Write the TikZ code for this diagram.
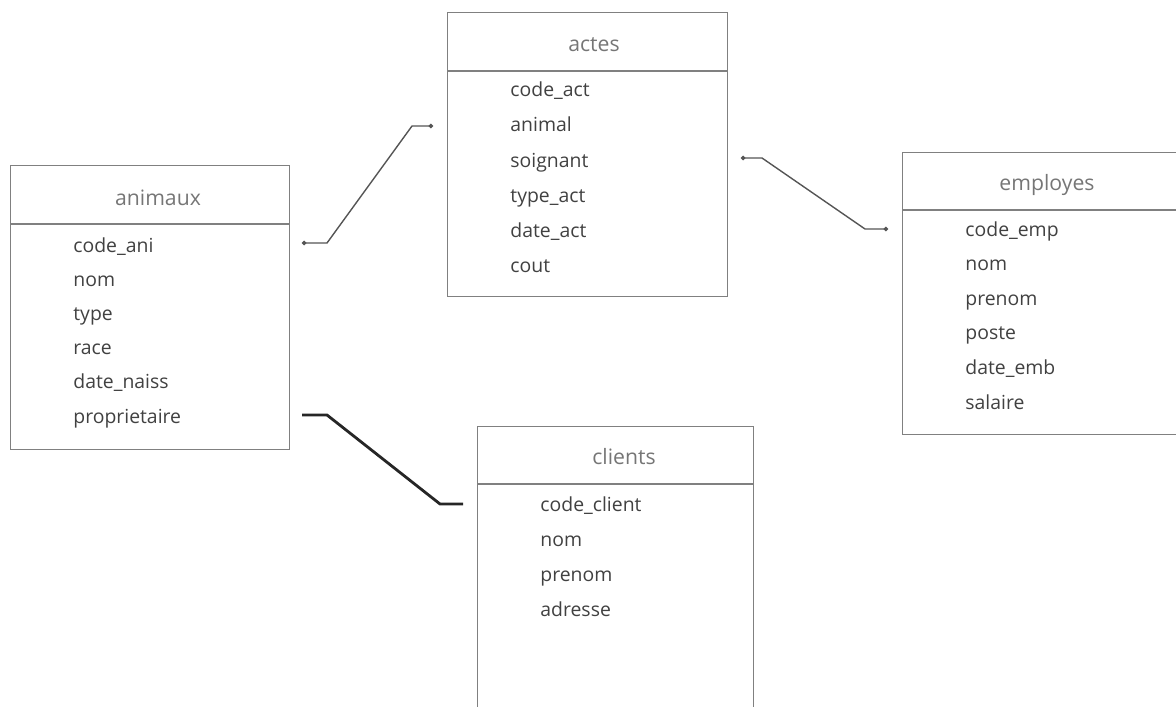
\documentclass[tikz,border=0pt]{standalone}
\usepackage{fontspec}
\setmainfont{Open Sans}
\usetikzlibrary{arrows.meta}
\definecolor{boxgray}{RGB}{128,128,128}
\definecolor{ttlgray}{RGB}{118,118,118}
\definecolor{fldgray}{RGB}{65,65,65}
\definecolor{lnkgray}{RGB}{85,85,85}

\begin{document}
\begin{tikzpicture}[x=0.5pt,y=-0.5pt,
tbl/.style={draw=boxgray,line width=0.7pt,anchor=north west,inner sep=0pt},
ttl/.style={anchor=base,text=ttlgray,font=\fontsize{10.6}{12}\selectfont},
fld/.style={anchor=base west,inner sep=0pt,text=fldgray,font=\fontsize{9.7}{11}\selectfont},
lnk/.style={draw=lnkgray,line width=0.7pt,{Circle[length=2.2pt]}-{Circle[length=2.2pt]}},
lnkbold/.style={draw=black!85,line width=1.4pt}]
\clip (0,0) rectangle (1176,706);

% tables
\node[tbl,minimum width=139.5pt,minimum height=142pt] (animaux) at (10,165) {};
\draw[boxgray,line width=0.7pt] ([yshift=-29.5pt]animaux.north west) -- ([yshift=-29.5pt]animaux.north east);
\node[ttl] (ani-t) at (158,205) {animaux};
\foreach \f [count=\i] in {code\_ani,nom,type,race,date\_naiss,proprietaire}
  \node[fld] (ani-\i) at (73,{252+34.2*(\i-1)}) {\f};

\node[tbl,minimum width=140pt,minimum height=142pt] (actes) at (447,12) {};
\draw[boxgray,line width=0.7pt] ([yshift=-29.5pt]actes.north west) -- ([yshift=-29.5pt]actes.north east);
\node[ttl] (act-t) at (594,52) {actes};
\foreach \f [count=\i] in {code\_act,animal,soignant,type\_act,date\_act,cout}
  \node[fld] (act-\i) at (510,{97+35*(\i-1)}) {\f};

\node[tbl,minimum width=145pt,minimum height=141pt] (employes) at (902,152) {};
\draw[boxgray,line width=0.7pt] ([yshift=-29pt]employes.north west) -- ([yshift=-29pt]employes.north east);
\node[ttl] (emp-t) at (1047,190) {employes};
\foreach \f [count=\i] in {code\_emp,nom,prenom,poste,date\_emb,salaire}
  \node[fld] (emp-\i) at (965,{236+34.6*(\i-1)}) {\f};

\node[tbl,minimum width=138pt,minimum height=150pt] (clients) at (477,426) {};
\draw[boxgray,line width=0.7pt] ([yshift=-29pt]clients.north west) -- ([yshift=-29pt]clients.north east);
\node[ttl] (cli-t) at (624,464) {clients};
\foreach \f [count=\i] in {code\_client,nom,prenom,adresse}
  \node[fld] (cli-\i) at (540,{511+35*(\i-1)}) {\f};

% link ends
\coordinate (ani-a) at (302,243);
\coordinate (act-a) at (433,126);
\coordinate (act-b) at (741,158);
\coordinate (emp-a) at (888,229);
\coordinate (ani-b) at (302,415);
\coordinate (cli-a) at (463,504);

% links
\draw[lnk] (ani-a) -- ++(25,0) -- ++(85,-117) -- (act-a);
\draw[lnk] (act-b) -- ++(21,0) -- ++(103,71) -- (emp-a);
\draw[lnkbold] (ani-b) -- ++(25,0) -- ++(113,89) -- (cli-a);
\end{tikzpicture}
\end{document}
